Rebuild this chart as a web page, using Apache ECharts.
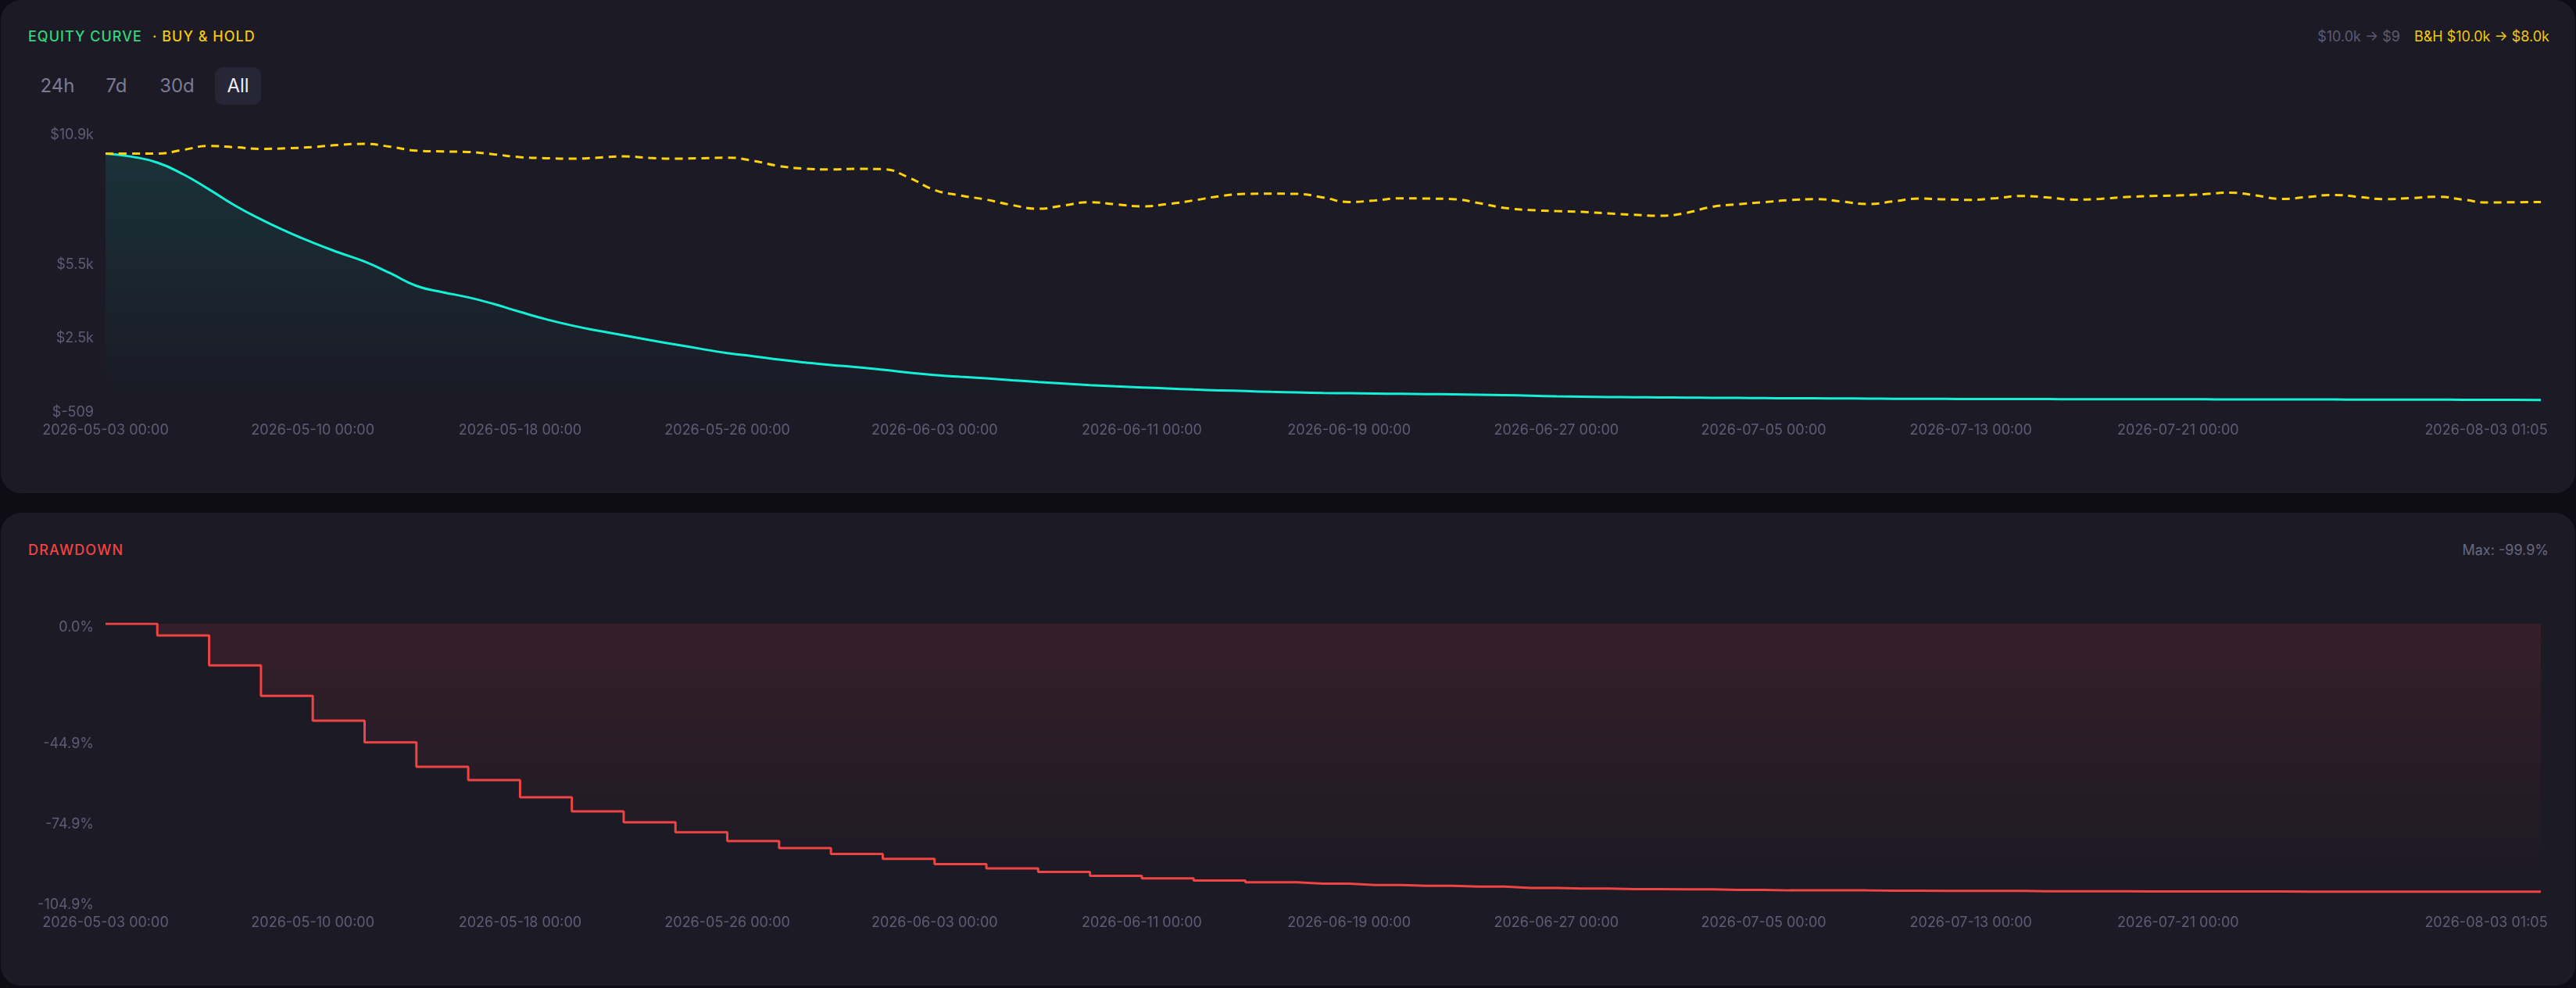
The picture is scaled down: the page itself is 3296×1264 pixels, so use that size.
<!DOCTYPE html>
<html>
<head>
<meta charset="utf-8">
<script src="https://cdn.jsdelivr.net/npm/echarts@6/dist/echarts.min.js"></script>
<style>
  html, body { margin:0; padding:0; }
  body { width:3296px; height:1264px; overflow:hidden; position:relative; background:#0e0d16; font-family: Inter, "Noto Sans", sans-serif; }
  .panel { position:absolute; background:#1b1a25; border-radius:26px; }
  .t { position:absolute; white-space:nowrap; line-height:24px; height:24px; }
  .btn { position:absolute; top:86px; height:48px; line-height:48px; font-size:24px; color:#7c7a93; text-align:center; border-radius:10px; }
  #chart { position:absolute; left:0; top:0; width:3296px; height:1264px; }
</style>
</head>
<body>
<div class="panel" style="left:1px;top:0px;width:3294px;height:631px;"></div>
<div class="panel" style="left:1px;top:656px;width:3294px;height:605px;"></div>

<div class="t" style="left:36px;top:35px;font-size:18px;font-weight:500;letter-spacing:1.0px;color:#34d67c;">EQUITY CURVE</div>
<div class="t" style="left:195px;top:35px;font-size:18px;font-weight:500;letter-spacing:1.0px;color:#f2c811;">· BUY &amp; HOLD</div>

<div class="btn" style="left:37px;width:73px;">24h</div>
<div class="btn" style="left:120px;width:58px;">7d</div>
<div class="btn" style="left:189px;width:75px;">30d</div>
<div class="btn" style="left:275px;width:59px;background:#272636;color:#eeeef5;">All</div>

<div class="t" style="right:34px;top:35px;font-size:18px;">
  <span style="color:#5d5b72;">$10.0k → $9</span><span style="color:#f2c811;margin-left:18px;">B&amp;H $10.0k → $8.0k</span>
</div>

<div class="t" style="left:36px;top:692px;font-size:18px;font-weight:500;letter-spacing:1.2px;color:#ef4444;">DRAWDOWN</div>
<div class="t" style="right:35px;top:692px;font-size:18px;color:#6a687f;">Max: -99.9%</div>

<div id="chart"></div>

<script>
// ---------- data ----------
const categories = (function () {
  const out = ['2026-05-03 00:00', '2026-05-03 12:00'];
  const d = new Date(Date.UTC(2026, 4, 4));
  for (let k = 0; k < 92; k++) {
    const s = d.toISOString().slice(0, 10) + ' 00:00';
    out.push(s);
    d.setUTCDate(d.getUTCDate() + 1);
  }
  out.push('2026-08-03 01:05');
  return out;
})();

const equity = [
  10000, 9874, 9631, 9157, 8542, 7888, 7328, 6831, 6387, 5987,
  5616, 5141, 4634, 4381, 4169, 3895, 3579, 3282, 3028, 2818,
  2628, 2437, 2258, 2078, 1909, 1782, 1646, 1529, 1424, 1339,
  1234, 1116, 1021, 948, 885, 810, 737, 673, 610, 557,
  515, 473, 430, 398, 367, 335, 314, 293, 280, 268,
  257, 246, 235, 222, 205, 180, 155, 138, 126, 118,
  110, 104, 97, 90, 83, 78, 74, 70, 64, 57,
  51, 50, 48, 46, 44, 42, 41, 40, 38, 37,
  35, 34, 33, 31, 29, 27, 26, 24, 22, 21,
  19, 17, 14, 11, 9
];

const buyHold = [
  10000, 10000, 10000, 10148, 10306, 10254, 10190, 10211, 10264, 10349,
  10391, 10275, 10116, 10085, 10063, 9968, 9852, 9810, 9789, 9831,
  9884, 9820, 9789, 9810, 9831, 9704, 9493, 9387, 9356, 9377,
  9366, 9028, 8521, 8299, 8130, 7909, 7761, 7898, 8025, 7940,
  7856, 7951, 8099, 8268, 8363, 8373, 8363, 8215, 8035, 8099,
  8183, 8173, 8151, 7993, 7792, 7708, 7666, 7634, 7571, 7518,
  7475, 7592, 7835, 7940, 8025, 8109, 8151, 8056, 7951, 8056,
  8173, 8141, 8120, 8194, 8278, 8215, 8130, 8162, 8236, 8278,
  8299, 8352, 8416, 8299, 8162, 8236, 8321, 8236, 8151, 8194,
  8247, 8130, 8014, 8025, 8030
];

const drawdown = [
  0, 0, -4.4, -4.4, -15.5, -15.5, -26.9, -26.9, -36.1, -36.1,
  -44.2, -44.2, -53.3, -53.3, -58.3, -58.3, -64.7, -64.7, -69.9, -69.9,
  -74.0, -74.0, -77.7, -77.7, -81.0, -81.0, -83.6, -83.6, -85.8, -85.8,
  -87.6, -87.6, -89.6, -89.6, -91.2, -91.2, -92.5, -92.5, -94.0, -94.0,
  -94.9, -94.9, -95.7, -95.7, -96.4, -96.4, -96.9, -96.9, -97.4, -97.4,
  -97.7, -97.7, -98.0, -98.0, -98.5, -98.5, -98.7, -98.7, -98.9, -98.9,
  -99.0, -99.0, -99.2, -99.2, -99.4, -99.4, -99.4, -99.4, -99.5, -99.5,
  -99.6, -99.6, -99.6, -99.6, -99.7, -99.7, -99.7, -99.7, -99.8, -99.8,
  -99.8, -99.8, -99.8, -99.8, -99.9, -99.9, -99.9, -99.9, -99.9, -99.9,
  -99.9, -99.9, -99.9, -99.9, -99.9
];

const equityTickValues = [-509, 2500, 5500, 10900];
const equityTickLabels = ['$-509', '$2.5k', '$5.5k', '$10.9k'];
const ddTickValues = [-104.9, -74.9, -44.9, 0];
const ddTickLabels = ['-104.9%', '-74.9%', '-44.9%', '0.0%'];

// ---------- chart ----------
const FONT = 'Inter, "Noto Sans", sans-serif';
const LABEL_COLOR = '#5f5d76';
const lastIdx = categories.length - 1;

function xAxis(gridIndex) {
  return {
    type: 'category',
    gridIndex: gridIndex,
    data: categories,
    boundaryGap: false,
    axisLine: { show: false },
    axisTick: { show: false },
    splitLine: { show: false },
    axisLabel: {
      color: LABEL_COLOR,
      fontSize: 18,
      fontFamily: FONT,
      margin: 14,
      interval: function (idx) { return (idx % 8 === 0 && idx <= 80) || idx === lastIdx; },
      formatter: function (v, idx) {
        return idx === lastIdx ? '{last|' + v + '}' : v;
      },
      rich: {
        last: { color: LABEL_COLOR, fontSize: 18, fontFamily: FONT, padding: [0, 140, 0, 0] }
      }
    }
  };
}

function yAxis(gridIndex, min, max, values, labels) {
  return {
    type: 'value',
    gridIndex: gridIndex,
    min: min,
    max: max,
    axisLine: { show: false },
    axisTick: { show: false },
    splitLine: { show: false },
    axisLabel: {
      customValues: values,
      color: LABEL_COLOR,
      fontSize: 18,
      fontFamily: FONT,
      margin: 15,
      formatter: function (v) {
        const k = values.indexOf(v);
        const s = k >= 0 ? labels[k] : '';
        return v === max ? '{top|' + s + '}' : s;
      },
      rich: {
        top: { color: LABEL_COLOR, fontSize: 18, fontFamily: FONT, padding: [10, 0, 0, 0] }
      }
    }
  };
}

const chart = echarts.init(document.getElementById('chart'), null, { renderer: 'canvas' });
chart.setOption({
  backgroundColor: 'transparent',
  animation: false,
  grid: [
    { left: 135, right: 45, top: 168, height: 360 },
    { left: 135, right: 45, top: 798, height: 360 }
  ],
  xAxis: [xAxis(0), xAxis(1)],
  yAxis: [
    yAxis(0, -509, 10900, equityTickValues, equityTickLabels),
    yAxis(1, -104.9, 0, ddTickValues, ddTickLabels)
  ],
  series: [
    {
      name: 'Equity',
      type: 'line',
      xAxisIndex: 0, yAxisIndex: 0,
      data: equity,
      smooth: true,
      showSymbol: false,
      lineStyle: { color: '#14f0d6', width: 3 },
      areaStyle: {
        color: new echarts.graphic.LinearGradient(0, 0, 0, 1, [
          { offset: 0, color: 'rgba(20,240,214,0.16)' },
          { offset: 1, color: 'rgba(20,240,214,0)' }
        ])
      },
      z: 2
    },
    {
      name: 'Buy & Hold',
      type: 'line',
      xAxisIndex: 0, yAxisIndex: 0,
      data: buyHold,
      smooth: true,
      showSymbol: false,
      lineStyle: { color: '#ffd20a', width: 3, type: [10, 7] },
      z: 3
    },
    {
      name: 'Drawdown',
      type: 'line',
      xAxisIndex: 1, yAxisIndex: 1,
      data: drawdown,
      step: 'end',
      showSymbol: false,
      lineStyle: { color: '#ef4444', width: 3 },
      areaStyle: {
        color: new echarts.graphic.LinearGradient(0, 0, 0, 1, [
          { offset: 0, color: 'rgba(239,68,68,0.18)' },
          { offset: 1, color: 'rgba(239,68,68,0)' }
        ])
      }
    }
  ]
});
</script>
</body>
</html>
